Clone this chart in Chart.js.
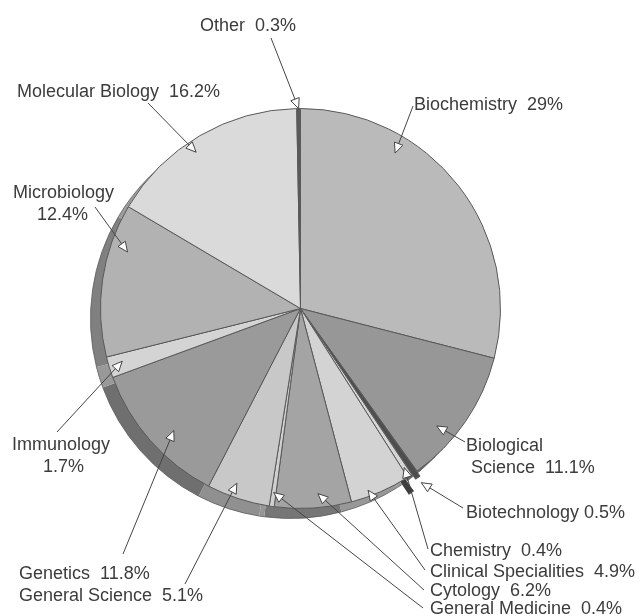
<!DOCTYPE html>
<html>
<head>
<meta charset="utf-8">
<script src="https://cdn.jsdelivr.net/npm/chart.js@4.4.1/dist/chart.umd.min.js"></script>
<style>
  html, body { margin: 0; padding: 0; background: #fff; }
  #wrap { width: 641px; height: 616px; }
</style>
</head>
<body>
<div id="wrap"><canvas id="pie"></canvas></div>
<script>
// data, clockwise from 12 o'clock
const categories = [
    "Biochemistry", "Biological Science", "Biotechnology", "Chemistry",
    "Clinical Specialities", "Cytology", "General Medicine", "General Science",
    "Genetics", "Immunology", "Microbiology", "Molecular Biology", "Other",
];
const shares = [29, 11.1, 0.5, 0.4, 4.9, 6.2, 0.4, 5.1, 11.8, 1.7, 12.4, 16.2, 0.3];

// styling
const fills = [
    "#bababa", "#979797", "#4e4e4e", "#d6d6d6", "#d3d3d3", "#a4a4a4", "#d0d0d0",
    "#c8c8c8", "#9a9a9a", "#d4d4d4", "#b2b2b2", "#dadada", "#5a5a5a",
];
const explode = [0, 0, 12, 0, 0, 0, 0, 0, 0, 0, 0, 0, 0];
const rimShift = { x: -10, y: 10 };

// label placement: text x / baseline y, leader start (lx, ly),
// arrow tip at fraction t of the slice angle and rf of the radius
const labelLayout = [
    { x: 414, y: 110, lx: 413, ly: 106, t: 0.30, rf: 0.91 },
    { x: 466, y: 451, x2: 471, split: 1, lx: 465, ly: 442, t: 0.66, rf: 0.90 },
    { x: 466, y: 518, lx: 463, ly: 508, t: 0.5, rf: 1.0, gap: " " },
    { x: 430, y: 556, lx: 428, ly: 549, t: 0.5, rf: 0.95 },
    { x: 430, y: 577, lx: 425, ly: 570, t: 0.68, rf: 0.97 },
    { x: 430, y: 596, lx: 424, ly: 590, t: 0.42, rf: 0.93 },
    { x: 430, y: 614, lx: 423, ly: 608, t: 0.5, rf: 0.93 },
    { x: 19, y: 601, lx: 185, ly: 584, t: 0.6, rf: 0.93 },
    { x: 19, y: 579, lx: 123, ly: 554, t: 0.44, rf: 0.88 },
    { x: 12, y: 450, x2: 43, split: 1, lx: 57, ly: 432, t: 0.6, rf: 0.93 },
    { x: 13, y: 198, x2: 37, split: 1, lx: 95, ly: 207, t: 0.72, rf: 0.91 },
    { x: 17, y: 97, lx: 148, ly: 103, t: 0.44, rf: 0.94 },
    { x: 200, y: 31, lx: 271, ly: 38, t: 0.5, rf: 1.0 },
];

function darken(hex, k) {
    const n = parseInt(hex.slice(1), 16);
    const c = [(n >> 16) & 255, (n >> 8) & 255, n & 255].map(v => Math.round(v * k));
    return `rgb(${c[0]},${c[1]},${c[2]})`;
}

// the dark side of the tilted pie, drawn under the faces
const rimPlugin = {
    id: "rim",
    beforeDatasetsDraw(chart) {
        const ctx = chart.ctx;
        const arcs = chart.getDatasetMeta(0).data;
        ctx.save();
        arcs.forEach((arc, i) => {
            const { x, y, startAngle, endAngle, outerRadius } =
                arc.getProps(["x", "y", "startAngle", "endAngle", "outerRadius"], true);
            const mid = (startAngle + endAngle) / 2;
            const cx = x + Math.cos(mid) * explode[i] + rimShift.x;
            const cy = y + Math.sin(mid) * explode[i] + rimShift.y;
            ctx.beginPath();
            ctx.moveTo(cx, cy);
            ctx.arc(cx, cy, outerRadius, startAngle, endAngle);
            ctx.closePath();
            ctx.fillStyle = darken(fills[i], i === 2 ? 0.8 : 0.72);
            ctx.fill();
            ctx.beginPath();
            ctx.arc(cx, cy, outerRadius, startAngle, endAngle);
            ctx.strokeStyle = "#5a5a5a";
            ctx.lineWidth = 0.8;
            ctx.stroke();
        });
        ctx.restore();
    },
};

function pctText(v) {
    return v + "%";
}

// labels with leader lines and hollow arrowheads
const leaderPlugin = {
    id: "leaders",
    afterDatasetsDraw(chart) {
        const ctx = chart.ctx;
        const arcs = chart.getDatasetMeta(0).data;
        ctx.save();
        ctx.font = '18px "Liberation Sans", Arial, sans-serif';
        ctx.fillStyle = "#3c3c3c";
        ctx.textBaseline = "alphabetic";
        categories.forEach((name, i) => {
            const L = labelLayout[i];
            const arc = arcs[i];
            const { x, y, startAngle, endAngle, outerRadius } =
                arc.getProps(["x", "y", "startAngle", "endAngle", "outerRadius"], true);
            const a = startAngle + L.t * (endAngle - startAngle);
            const r = L.rf * outerRadius + explode[i];
            const tx = x + Math.cos(a) * r;
            const ty = y + Math.sin(a) * r;

            // leader line
            ctx.beginPath();
            ctx.moveTo(L.lx, L.ly);
            ctx.lineTo(tx, ty);
            ctx.strokeStyle = "#454545";
            ctx.lineWidth = 1;
            ctx.stroke();

            // hollow arrowhead
            const ang = Math.atan2(ty - L.ly, tx - L.lx);
            const len = 10, half = 4.5;
            const bx = tx - Math.cos(ang) * len, by = ty - Math.sin(ang) * len;
            ctx.beginPath();
            ctx.moveTo(tx, ty);
            ctx.lineTo(bx + Math.sin(ang) * half, by - Math.cos(ang) * half);
            ctx.lineTo(bx - Math.sin(ang) * half, by + Math.cos(ang) * half);
            ctx.closePath();
            ctx.fillStyle = "#fff";
            ctx.fill();
            ctx.stroke();

            // text
            ctx.fillStyle = "#3c3c3c";
            const gap = L.gap || "  ";
            if (L.split) {
                const words = name.split(" ");
                const first = words.slice(0, L.split).join(" ");
                const rest = words.slice(L.split).join(" ");
                ctx.fillText(first, L.x, L.y);
                ctx.fillText((rest ? rest + gap : "") + pctText(shares[i]), L.x2, L.y + 22);
            } else {
                ctx.fillText(name + gap + pctText(shares[i]), L.x, L.y);
            }
        });
        ctx.restore();
    },
};

const ctx = document.getElementById("pie").getContext("2d");

new Chart(ctx, {
    type: "pie",
    data: {
        labels: categories,
        datasets: [
            {
                data: shares,
                backgroundColor: fills,
                borderColor: "#5a5a5a",
                borderWidth: 1,
                hoverBorderWidth: 1,
                offset: explode,
                hoverOffset: 0,
            },
        ],
    },
    options: {
        responsive: true,
        maintainAspectRatio: false,
        animation: false,
        events: [],
        layout: {
            padding: { left: 94, right: 134, top: 102, bottom: 101 },
        },
        plugins: {
            legend: { display: false },
            tooltip: { enabled: false },
        },
    },
    plugins: [rimPlugin, leaderPlugin],
});
</script>
</body>
</html>
